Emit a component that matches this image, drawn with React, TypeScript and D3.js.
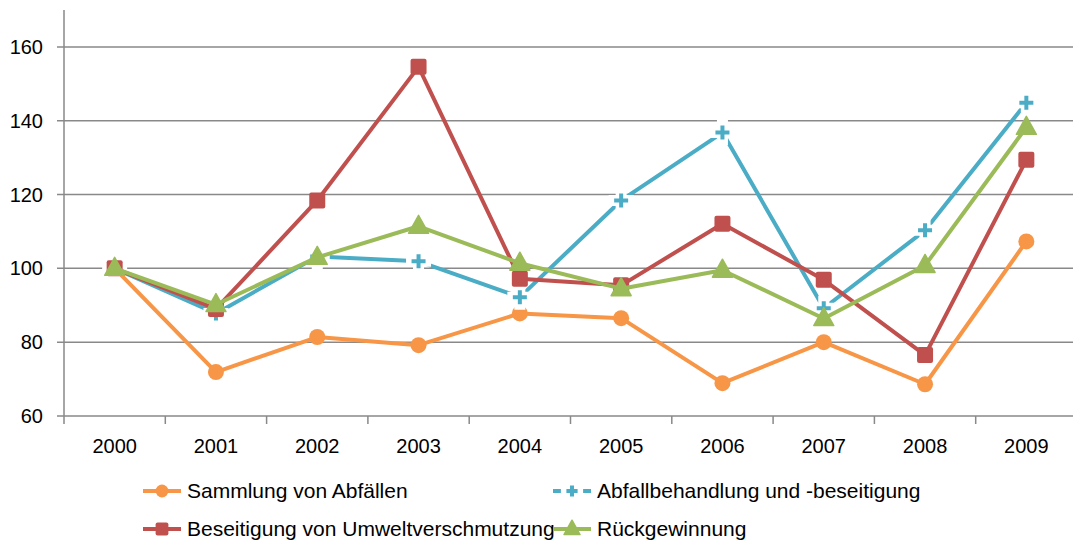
import React from "react";
import * as d3 from "d3";

const years = ["2000", "2001", "2002", "2003", "2004", "2005", "2006", "2007", "2008", "2009"];
const sammlung = [100, 71.9, 81.4, 79.2, 87.8, 86.5, 68.9, 80.0, 68.6, 107.3];
const abfallbehandlung = [100, 87.8, 103.2, 101.9, 92.2, 118.4, 136.8, 89.2, 110.3, 144.9];
const beseitigung = [100, 89.0, 118.4, 154.6, 97.2, 95.4, 112.1, 96.9, 76.5, 129.4];
const rueckgewinnung = [100, 90.2, 103.0, 111.4, 101.4, 94.5, 99.5, 86.4, 100.8, 138.2];
const yTicks = [60, 80, 100, 120, 140, 160];

const seriesDefs = [
  { name: "Sammlung von Abfällen", values: sammlung, color: "#F79646", marker: "circle" },
  { name: "Abfallbehandlung und -beseitigung", values: abfallbehandlung, color: "#4BACC6", marker: "plus" },
  { name: "Beseitigung von Umweltverschmutzung", values: beseitigung, color: "#C0504D", marker: "square" },
  { name: "Rückgewinnung", values: rueckgewinnung, color: "#9BBB59", marker: "triangle" },
];

const W = 1073;
const H = 544;
const left = 64;
const right = 1077;
const top = 10;
const bottom = 416;
const font = "'Liberation Sans', Arial, sans-serif";

function Marker({ type, x, y, color, s = 1 }: { type: string; x: number; y: number; color: string; s?: number }) {
  if (type === "circle") return <circle cx={x} cy={y} r={8 * s} fill={color} />;
  if (type === "square")
    return <rect x={x - 8 * s} y={y - 8 * s} width={16 * s} height={16 * s} rx={2} fill={color} />;
  if (type === "triangle") {
    const p = `M${x},${y - 11 * s} L${x + 10 * s},${y + 7 * s} L${x - 10 * s},${y + 7 * s} Z`;
    return <path d={p} fill={color} stroke={color} strokeWidth={1.5} strokeLinejoin="round" />;
  }
  const a = 7 * s;
  const p = `M${x - a},${y} L${x + a},${y} M${x},${y - a} L${x},${y + a}`;
  return (
    <g>
      <path d={p} stroke="#fff" strokeWidth={11} strokeLinecap="square" />
      <path d={p} stroke={color} strokeWidth={4} />
    </g>
  );
}

export default function App() {
  const x = d3.scaleBand<string>().domain(years).range([left, right]);
  const y = d3.scaleLinear().domain([60, 170]).range([bottom, top]);
  const cx = (yr: string) => (x(yr) as number) + x.bandwidth() / 2;
  const line = d3
    .line<number>()
    .x((_, i) => cx(years[i]))
    .y((v) => y(v));

  const legendItems = [
    { s: seriesDefs[0], lx: 143, ly: 491 },
    { s: seriesDefs[1], lx: 553, ly: 491 },
    { s: seriesDefs[2], lx: 143, ly: 529 },
    { s: seriesDefs[3], lx: 553, ly: 529 },
  ];

  const boundaries = d3.range(years.length + 1).map((i) => left + i * x.step());

  return (
    <svg
      width={W}
      height={H}
      style={{ position: "absolute", left: 0, top: 0, background: "#fff" }}
      fontFamily={font}
    >
      <rect width={W} height={H} fill="#fff" />
      {yTicks.map((t) => (
        <g key={t}>
          <line x1={left - 7} x2={right} y1={y(t)} y2={y(t)} stroke="#898989" strokeWidth={1.5} />
          <text x={43} y={y(t)} dy="0.35em" textAnchor="end" fontSize={20} fill="#000">
            {t}
          </text>
        </g>
      ))}
      <line x1={left} x2={left} y1={top} y2={bottom} stroke="#898989" strokeWidth={1.5} />
      {boundaries.map((bx, i) => (
        <line key={i} x1={bx} x2={bx} y1={bottom} y2={bottom + 8} stroke="#898989" strokeWidth={1.5} />
      ))}
      {years.map((yr) => (
        <text key={yr} x={cx(yr)} y={453} textAnchor="middle" fontSize={20} fill="#000">
          {yr}
        </text>
      ))}
      {seriesDefs.map((s) => (
        <g key={s.name}>
          <path d={line(s.values) || ""} fill="none" stroke={s.color} strokeWidth={4} strokeLinejoin="round" />
          {s.values.map((v, i) => (
            <Marker key={i} type={s.marker} x={cx(years[i])} y={y(v)} color={s.color} />
          ))}
        </g>
      ))}
      {legendItems.map(({ s, lx, ly }) => (
        <g key={s.name}>
          {s.marker === "plus" ? (
            <g>
              <line x1={lx} x2={lx + 11} y1={ly} y2={ly} stroke={s.color} strokeWidth={4} />
              <line x1={lx + 27} x2={lx + 38} y1={ly} y2={ly} stroke={s.color} strokeWidth={4} />
            </g>
          ) : (
            <line x1={lx} x2={lx + 38} y1={ly} y2={ly} stroke={s.color} strokeWidth={4} />
          )}
          <Marker type={s.marker} x={lx + 19} y={ly} color={s.color} s={0.8} />
          <text x={lx + 44} y={ly} dy="0.35em" fontSize={21} fill="#000">
            {s.name}
          </text>
        </g>
      ))}
    </svg>
  );
}
